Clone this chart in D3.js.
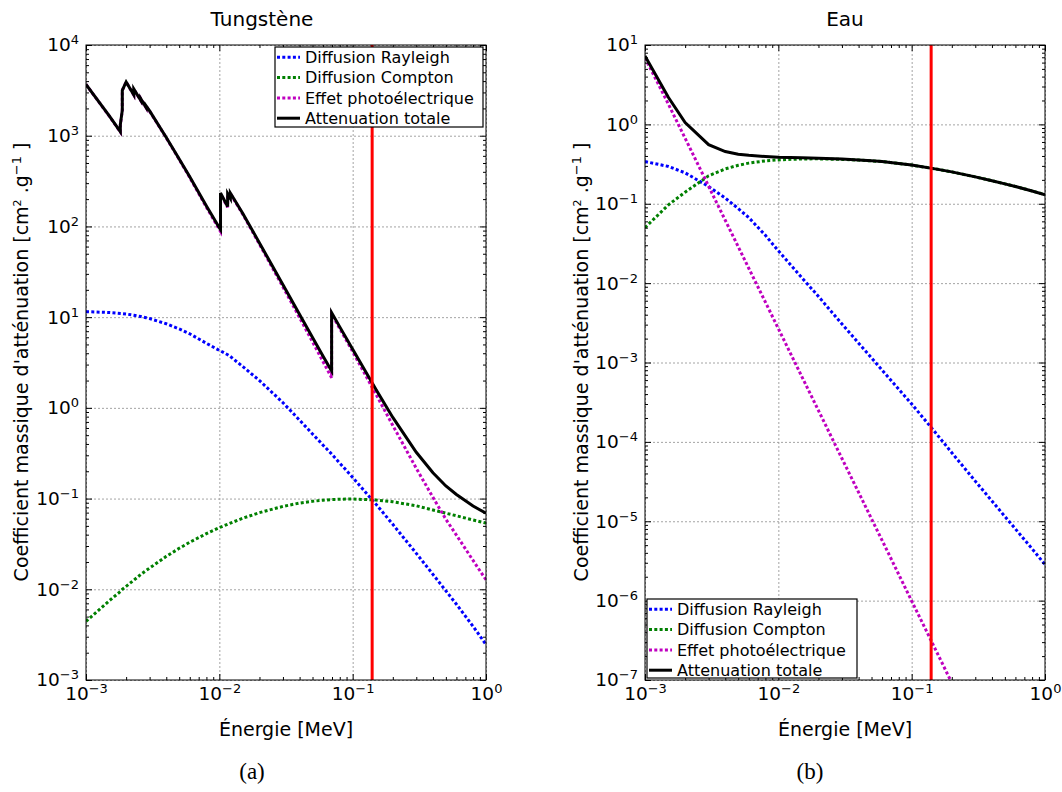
<!DOCTYPE html>
<html><head><meta charset="utf-8">
<script src="https://cdn.jsdelivr.net/npm/d3@7"></script>
<style>
body{margin:0;background:#fff;}
svg{display:block;font-family:"DejaVu Sans",sans-serif;}
</style></head><body>
<svg id="c" width="1062" height="792"></svg>
<script>
// ---------- Data (MeV, cm2/g) ----------
const energyW = [0.001,0.0015,0.0018092,0.0018092,0.0018716,0.0018716,0.002,0.002281,0.002281,0.002575,0.002575,0.00282,0.00282,0.003,0.004,0.005,0.006,0.008,0.01,0.0102068,0.0102068,0.011544,0.011544,0.0121,0.0121,0.015,0.02,0.03,0.04,0.05,0.06,0.069525,0.069525,0.08,0.1,0.15,0.2,0.3,0.4,0.5,0.6,0.8,1];
const rayleighW = [11.5,11.24,10.98,10.98,10.94,10.94,10.82,10.5,10.5,10.15,10.15,9.87,9.87,9.65,8.45,7.41,6.55,5.15,4.3,4.25,4.25,3.85,3.85,3.68,3.68,2.85,2.0,1.14,0.731,0.516,0.388,0.31,0.31,0.246,0.171,0.0863,0.052,0.0249,0.0146,0.00962,0.00684,0.0039,0.00246];
const comptonW = [0.00443,0.00752,0.00944,0.00944,0.00997,0.00997,0.01076,0.0126,0.0126,0.01456,0.01456,0.0161,0.0161,0.01713,0.02306,0.0283,0.033,0.0411,0.0478,0.0484,0.0484,0.0521,0.0521,0.0536,0.0536,0.0607,0.070,0.082,0.0892,0.0933,0.096,0.0973,0.0973,0.0985,0.0988,0.0965,0.0922,0.0833,0.0748,0.069,0.0646,0.0581,0.0536];
const photoW = [3671,1632,1097,1316,1900,3159,3911,2818,3269,2435,2553,2040,2130,1865,947,547,346,163,92.5,88.1,229.1,162.2,225.8,200.3,229.9,136.0,63.66,21.51,9.85,5.34,3.229,2.145,10.82,7.466,4.168,1.398,0.640,0.2156,0.1031,0.0592,0.0395,0.0208,0.0127];
const totalW = [3683,1643,1108,1327,1911,3170,3922,2828,3279,2445,2563,2050,2140,1875,956,555,353,168,96.9,92.4,233.4,166.1,229.7,204.0,233.6,138.9,65.73,22.73,10.67,5.949,3.713,2.552,11.23,7.810,4.438,1.581,0.7844,0.3238,0.1925,0.1378,0.111,0.0828,0.0688];

const energyEau = [0.001,0.0015,0.002,0.003,0.004,0.005,0.006,0.008,0.01,0.015,0.02,0.03,0.04,0.05,0.06,0.08,0.1,0.15,0.2,0.3,0.4,0.5,0.6,0.8,1];
const rayleighEau = [0.340,0.295,0.245,0.165,0.118,0.087,0.067,0.040,0.0255,0.0117,0.0068,0.00305,0.00175,0.00114,0.00080,0.00046,0.000300,0.000132,7.3e-5,3.2e-5,1.8e-5,1.15e-5,8.0e-6,4.5e-6,2.85e-6];
const comptonEau = [0.050,0.097,0.140,0.225,0.275,0.305,0.325,0.347,0.357,0.367,0.368,0.362,0.355,0.347,0.340,0.322,0.307,0.275,0.252,0.218,0.195,0.178,0.165,0.145,0.130];
const photoEau = [6.9,1.79,0.668,0.166,0.062,0.0288,0.0154,0.00575,0.00268,6.65e-4,2.48e-4,6.18e-5,2.31e-5,1.07e-5,5.74e-6,2.14e-6,9.9e-7,2.47e-7,9.2e-8,2.29e-8,8.5e-9,3.97e-9,2.12e-9,7.9e-10,3.7e-10];
const totalEau = [7.29,2.18,1.053,0.556,0.455,0.421,0.407,0.393,0.385,0.379,0.375,0.365,0.357,0.348,0.341,0.3225,0.307,0.275,0.252,0.218,0.195,0.178,0.165,0.145,0.130];

const cutEnergy = 0.14;
const seriesNames = ["Diffusion Rayleigh","Diffusion Compton","Effet photoélectrique","Attenuation totale"];
const seriesColors = ["#0000ff","#008000","#bf00bf","#000000"];
const xTickExps = [-3,-2,-1,0];
const yTickExpsW = [-3,-2,-1,0,1,2,3,4];
const yTickExpsEau = [-7,-6,-5,-4,-3,-2,-1,0,1];

// ---------- Drawing ----------
const svg = d3.select("#c");
const defs = svg.append("defs");

function minorsFor(exps){
  const out=[];
  for(let i=0;i<exps.length-1;i++) for(let k=2;k<=9;k++) out.push(k*Math.pow(10,exps[i]));
  return out;
}
function supLabel(sel, expOf){
  sel.each(function(d){
    const t=d3.select(this); t.text(null);
    t.append("tspan").text("10");
    const e=expOf(d);
    t.append("tspan").attr("dy",-7).attr("font-size",13).text(e<0?"\u2212"+(-e):String(e));
  });
}

function drawPanel(o){
  const {left,top,width,height}=o;
  const x=d3.scaleLog().domain([1e-3,1]).range([left,left+width]);
  const y=d3.scaleLog().domain(o.yDomain).range([top+height,top]);
  const g=svg.append("g");
  const clipId="clip"+o.id;
  defs.append("clipPath").attr("id",clipId).append("rect")
    .attr("x",left).attr("y",top).attr("width",width).attr("height",height);

  const xMaj=xTickExps.map(e=>Math.pow(10,e));
  const yMaj=o.yExps.map(e=>Math.pow(10,e));
  const xMin=minorsFor(xTickExps), yMin=minorsFor(o.yExps);

  // grid
  const gridStyle=s=>{s.select(".domain").remove();s.selectAll("line").attr("stroke","#9a9a9a").attr("stroke-width",0.9).attr("stroke-dasharray","2,2");};
  g.append("g").attr("transform",`translate(0,${top+height})`)
    .call(d3.axisBottom(x).tickValues(xMaj).tickSize(-height).tickFormat("")).call(gridStyle);
  g.append("g").attr("transform",`translate(${left},0)`)
    .call(d3.axisLeft(y).tickValues(yMaj).tickSize(-width).tickFormat("")).call(gridStyle);

  // series
  const line=d3.line().x((d,i)=>x(o.energy[i])).y(d=>y(d));
  const pg=g.append("g").attr("clip-path",`url(#${clipId})`);
  o.series.forEach((vals,i)=>{
    pg.append("path").datum(vals).attr("d",line).attr("fill","none")
      .attr("stroke",seriesColors[i]).attr("stroke-width",3)
      .attr("stroke-dasharray",i<3?"3,2.3":null).attr("stroke-linejoin","miter");
  });
  // red energy line
  pg.append("line").attr("x1",x(cutEnergy)).attr("x2",x(cutEnergy))
    .attr("y1",top).attr("y2",top+height).attr("stroke","#ff0000").attr("stroke-width",3);

  // frame
  g.append("rect").attr("x",left).attr("y",top).attr("width",width).attr("height",height)
    .attr("fill","none").attr("stroke","#000").attr("stroke-width",1);

  const tickStyle=s=>{s.select(".domain").remove();s.selectAll("line").attr("stroke","#000").attr("stroke-width",1);};
  const bx=g.append("g").attr("transform",`translate(0,${top+height})`)
    .call(d3.axisBottom(x).tickValues(xMaj).tickSizeInner(-6).tickSizeOuter(0).tickPadding(7)).call(tickStyle);
  bx.selectAll(".tick text").attr("font-size",18.5).attr("font-family","DejaVu Sans").attr("fill","#000")
    .call(supLabel,d=>Math.round(Math.log10(d)));
  g.append("g").attr("transform",`translate(0,${top+height})`)
    .call(d3.axisBottom(x).tickValues(xMin).tickSize(-3).tickFormat("")).call(tickStyle);
  g.append("g").attr("transform",`translate(0,${top})`)
    .call(d3.axisTop(x).tickValues(xMaj).tickSize(-6).tickFormat("")).call(tickStyle);
  g.append("g").attr("transform",`translate(0,${top})`)
    .call(d3.axisTop(x).tickValues(xMin).tickSize(-3).tickFormat("")).call(tickStyle);
  const ly=g.append("g").attr("transform",`translate(${left},0)`)
    .call(d3.axisLeft(y).tickValues(yMaj).tickSizeInner(-6).tickSizeOuter(0).tickPadding(7)).call(tickStyle);
  ly.selectAll(".tick text").attr("font-size",18.5).attr("font-family","DejaVu Sans").attr("fill","#000")
    .call(supLabel,d=>Math.round(Math.log10(d)));
  g.append("g").attr("transform",`translate(${left},0)`)
    .call(d3.axisLeft(y).tickValues(yMin).tickSize(-3).tickFormat("")).call(tickStyle);
  g.append("g").attr("transform",`translate(${left+width},0)`)
    .call(d3.axisRight(y).tickValues(yMaj).tickSize(-6).tickFormat("")).call(tickStyle);
  g.append("g").attr("transform",`translate(${left+width},0)`)
    .call(d3.axisRight(y).tickValues(yMin).tickSize(-3).tickFormat("")).call(tickStyle);

  // title
  g.append("text").attr("x",o.titleX).attr("y",26).attr("text-anchor","middle")
    .attr("font-size",20).text(o.title);
  // x label
  g.append("text").attr("x",left+width/2).attr("y",736).attr("text-anchor","middle")
    .attr("font-size",19).text("Énergie [MeV]");
  // y label
  const yl=g.append("text").attr("transform",`translate(${o.ylabelX},362) rotate(-90)`)
    .attr("text-anchor","middle").attr("font-size",19);
  yl.append("tspan").text("Coefficient massique d'atténuation [cm");
  yl.append("tspan").attr("dy",-7).attr("font-size",11).text("2");
  yl.append("tspan").attr("dy",7).text(" .g");
  yl.append("tspan").attr("dy",-7).attr("font-size",13).text("\u22121");
  yl.append("tspan").attr("dy",7).text(" ]");
  // caption
  g.append("text").attr("x",o.captionX).attr("y",779).attr("text-anchor","middle")
    .attr("font-family","'Liberation Serif',serif").attr("font-size",23).text(o.caption);

  // legend
  const L=o.legend;
  const lg=g.append("g");
  lg.append("rect").attr("x",L.x).attr("y",L.y).attr("width",L.w).attr("height",L.h)
    .attr("fill","#fff").attr("stroke","#000").attr("stroke-width",1.2);
  seriesNames.forEach((name,i)=>{
    const cy=L.y+10.3+i*20.3;
    lg.append("line").attr("x1",L.x+2).attr("x2",L.x+25).attr("y1",cy).attr("y2",cy)
      .attr("stroke",seriesColors[i]).attr("stroke-width",3)
      .attr("stroke-dasharray",i<3?"3,2.3":null);
    lg.append("text").attr("x",L.x+30).attr("y",cy).attr("dy","0.35em")
      .attr("font-size",16).text(name);
  });
}

drawPanel({id:"w",left:86,top:45,width:400,height:635,yDomain:[1e-3,1e4],
  energy:energyW,series:[rayleighW,comptonW,photoW,totalW],yExps:yTickExpsW,titleX:262,
  title:"Tungstène",legend:{x:275,y:47,w:208,h:80},caption:"(a)",captionX:252,ylabelX:28});
drawPanel({id:"e",left:645,top:45,width:400,height:635,yDomain:[1e-7,10],
  energy:energyEau,series:[rayleighEau,comptonEau,photoEau,totalEau],yExps:yTickExpsEau,titleX:845,
  title:"Eau",legend:{x:647,y:599,w:210,h:79},caption:"(b)",captionX:810,ylabelX:588});
</script>
</body></html>
